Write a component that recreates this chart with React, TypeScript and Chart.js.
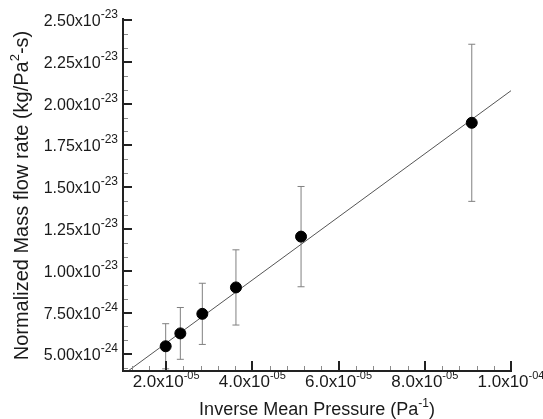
import React, { useEffect, useRef } from "react";
import { Chart, registerables } from "chart.js";

Chart.register(...registerables);

// ---- data ----
const invPressure = [1.99e-5, 2.33e-5, 2.84e-5, 3.62e-5, 5.13e-5, 9.09e-5];
const massFlow = [5.48e-24, 6.25e-24, 7.42e-24, 9.0e-24, 1.204e-23, 1.885e-23];
const errHalf = [1.35e-24, 1.55e-24, 1.83e-24, 2.25e-24, 3.0e-24, 4.7e-24];

const fitX = [1e-5, 1e-4];
const fitY = [3.78e-24, 2.077e-23];

const xTickValues = [2e-5, 4e-5, 6e-5, 8e-5, 1e-4];
const xTickMant = ["2.0", "4.0", "6.0", "8.0", "1.0"];
const xTickExp = ["-05", "-05", "-05", "-05", "-04"];

const yTickValues = [5e-24, 7.5e-24, 1e-23, 1.25e-23, 1.5e-23, 1.75e-23, 2e-23, 2.25e-23, 2.5e-23];
const yTickMant = ["5.00", "7.50", "1.00", "1.25", "1.50", "1.75", "2.00", "2.25", "2.50"];
const yTickExp = ["-24", "-24", "-23", "-23", "-23", "-23", "-23", "-23", "-23"];

const X_MIN = 1e-5, X_MAX = 1e-4, X_MINOR = 4e-6;
const Y_MIN = 4e-24, Y_MAX = 2.5e-23, Y_MINOR = 2.5e-24 / 3;

const FONT = '"Liberation Sans", Arial, sans-serif';
const TEXT = "#1a1a1a";

type Part = { t: string; size: number; dy: number };

function partsWidth(ctx: CanvasRenderingContext2D, parts: Part[]) {
  let w = 0;
  for (const p of parts) {
    ctx.font = `${p.size}px ${FONT}`;
    w += ctx.measureText(p.t).width;
  }
  return w;
}
function drawParts(ctx: CanvasRenderingContext2D, parts: Part[], x: number, y: number) {
  let cx = x;
  ctx.textAlign = "left";
  ctx.textBaseline = "alphabetic";
  for (const p of parts) {
    ctx.font = `${p.size}px ${FONT}`;
    ctx.fillText(p.t, cx, y + p.dy);
    cx += ctx.measureText(p.t).width;
  }
}

const decorPlugin = {
  id: "decor",
  beforeDatasetsDraw(chart: any) {
    const ctx = chart.ctx as CanvasRenderingContext2D;
    const xs = chart.scales.x, ys = chart.scales.y;
    ctx.save();
    ctx.strokeStyle = "#808080";
    ctx.lineWidth = 1;
    for (let i = 0; i < invPressure.length; i++) {
      const px = xs.getPixelForValue(invPressure[i]);
      const top = ys.getPixelForValue(massFlow[i] + errHalf[i]);
      const bot = Math.min(ys.getPixelForValue(massFlow[i] - errHalf[i]), chart.chartArea.bottom);
      ctx.beginPath();
      ctx.moveTo(px, top); ctx.lineTo(px, bot);
      ctx.moveTo(px - 3.5, top); ctx.lineTo(px + 3.5, top);
      if (bot < chart.chartArea.bottom) { ctx.moveTo(px - 3.5, bot); ctx.lineTo(px + 3.5, bot); }
      ctx.stroke();
    }
    ctx.restore();
  },
  afterDraw(chart: any) {
    const ctx = chart.ctx as CanvasRenderingContext2D;
    const xs = chart.scales.x, ys = chart.scales.y;
    const { left, right, top, bottom } = chart.chartArea;
    ctx.save();
    // minor ticks
    ctx.strokeStyle = "#8a8a8a";
    ctx.lineWidth = 1;
    ctx.beginPath();
    for (let v = Y_MIN; v <= Y_MAX * 1.0001; v += Y_MINOR) {
      const k = Math.round(v / Y_MINOR);
      if (k % 3 === 0) continue;
      const py = Math.round(ys.getPixelForValue(k * Y_MINOR)) + 0.5;
      if (py > bottom) continue;
      ctx.moveTo(left, py); ctx.lineTo(left + 5, py);
    }
    for (let k = Math.ceil(X_MIN / X_MINOR); k * X_MINOR <= X_MAX * 1.0001; k++) {
      if (k % 5 === 0) continue;
      const px = Math.round(xs.getPixelForValue(k * X_MINOR)) + 0.5;
      ctx.moveTo(px, bottom); ctx.lineTo(px, bottom - 5);
    }
    ctx.stroke();
    // axes
    ctx.strokeStyle = "#222";
    ctx.lineWidth = 2;
    ctx.beginPath();
    ctx.moveTo(left, top - 2); ctx.lineTo(left, bottom + 1);
    ctx.moveTo(left - 1, bottom); ctx.lineTo(right + 1, bottom);
    ctx.stroke();
    // major ticks
    ctx.beginPath();
    for (const v of yTickValues) {
      const py = Math.round(ys.getPixelForValue(v));
      ctx.moveTo(left, py); ctx.lineTo(left + 9, py);
    }
    for (const v of xTickValues) {
      const px = Math.round(xs.getPixelForValue(v));
      ctx.moveTo(px, bottom); ctx.lineTo(px, bottom - 10);
    }
    ctx.stroke();
    // tick labels
    ctx.fillStyle = TEXT;
    yTickValues.forEach((v, i) => {
      const py = ys.getPixelForValue(v);
      const parts: Part[] = [
        { t: yTickMant[i] + "x10", size: 16, dy: 6 },
        { t: yTickExp[i], size: 12, dy: -2 },
      ];
      const w = partsWidth(ctx, parts);
      drawParts(ctx, parts, left - 5 - w, py);
    });
    xTickValues.forEach((v, i) => {
      const px = xs.getPixelForValue(v);
      const parts: Part[] = [
        { t: xTickMant[i] + "x10", size: 17, dy: 16 },
        { t: xTickExp[i], size: 11, dy: 8 },
      ];
      const w = partsWidth(ctx, parts);
      drawParts(ctx, parts, px - w / 2, bottom);
    });
    // axis titles
    const xt: Part[] = [
      { t: "Inverse Mean Pressure (Pa", size: 18, dy: 0 },
      { t: "-1", size: 12, dy: -8 },
      { t: ")", size: 18, dy: 0 },
    ];
    const xw = partsWidth(ctx, xt);
    drawParts(ctx, xt, (left + right) / 2 - xw / 2, 415);
    const yt: Part[] = [
      { t: "Normalized Mass flow rate (kg/Pa", size: 20, dy: 0 },
      { t: "2", size: 13, dy: -9 },
      { t: "-s)", size: 20, dy: 0 },
    ];
    const yw = partsWidth(ctx, yt);
    ctx.translate(28, (top + bottom) / 2);
    ctx.rotate(-Math.PI / 2);
    drawParts(ctx, yt, -yw / 2, 0);
    ctx.restore();
  },
};

export default function App() {
  const ref = useRef<HTMLCanvasElement>(null);
  useEffect(() => {
    const canvas = ref.current!;
    const chart = new Chart(canvas, {
      type: "scatter",
      data: {
        datasets: [
          {
            type: "scatter",
            data: invPressure.map((x, i) => ({ x, y: massFlow[i] })),
            backgroundColor: "#000",
            borderColor: "#000",
            borderWidth: 1,
            pointRadius: 5.5,
            pointHoverRadius: 5.5,
            order: 0,
          },
          {
            type: "line",
            data: fitX.map((x, i) => ({ x, y: fitY[i] })),
            borderColor: "#555",
            borderWidth: 1,
            pointRadius: 0,
            fill: false,
            order: 1,
          } as any,
        ],
      },
      options: {
        animation: false,
        responsive: false,
        events: [],
        layout: { padding: { left: 123, right: 32, top: 20, bottom: 48 } },
        plugins: { legend: { display: false }, tooltip: { enabled: false } },
        scales: {
          x: {
            type: "linear",
            min: X_MIN,
            max: X_MAX,
            ticks: { display: false },
            grid: { display: false, drawTicks: false },
            border: { display: false },
            afterFit: (s: any) => { s.height = 0; },
          },
          y: {
            type: "linear",
            min: Y_MIN,
            max: Y_MAX,
            ticks: { display: false },
            grid: { display: false, drawTicks: false },
            border: { display: false },
            afterFit: (s: any) => { s.width = 0; },
          },
        },
      },
      plugins: [decorPlugin],
    });
    return () => chart.destroy();
  }, []);
  return (
    <div style={{ position: "fixed", left: 0, top: 0, width: 543, height: 419, background: "#fff" }}>
      <canvas ref={ref} width={543} height={419} style={{ display: "block" }} />
    </div>
  );
}
